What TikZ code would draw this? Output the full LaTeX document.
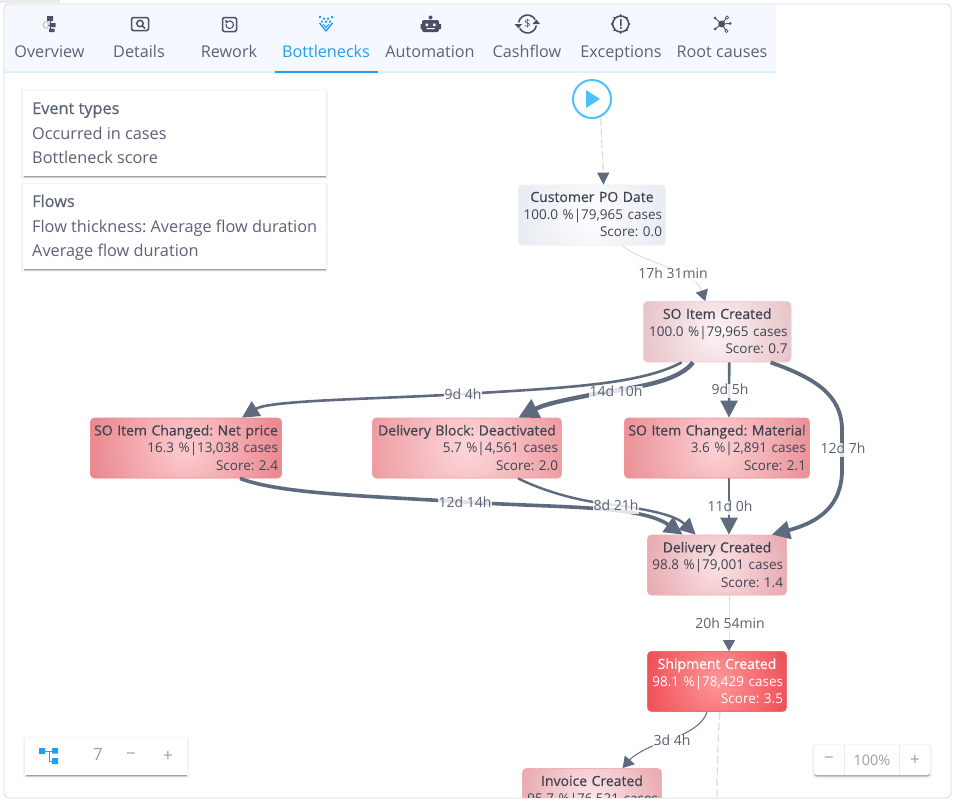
\documentclass[tikz,border=0pt]{standalone}
\usepackage{fontspec}
\setmainfont{Open Sans}
\newfontfamily\osemi[FakeBold=0.5]{Open Sans}
\usetikzlibrary{arrows.meta,calc}
\definecolor{ink}{HTML}{5B6275}
\definecolor{dark}{HTML}{3F4452}
\definecolor{edgec}{HTML}{5E6B7E}
\definecolor{iconc}{HTML}{4A5164}
\definecolor{faint}{HTML}{DADDE2}
\definecolor{bluea}{HTML}{1E9FF2}
\definecolor{startc}{HTML}{4DC0FF}
\definecolor{headbg}{HTML}{F5F9FF}
\definecolor{greyc}{HTML}{9A9FA8}
\tikzset{
  x=1pt,y=-1pt,
  flow/.style={draw=edgec},
  faintflow/.style={draw=faint,line width=1pt},
  dashflow/.style={draw=faint,line width=1.2pt,dash pattern=on 8pt off 3pt},
  lbl/.style={fill=white,fill opacity=.82,text opacity=1,text=ink,inner xsep=1pt,inner ysep=0.5pt,text height=10pt,text depth=3pt,yshift=-2pt,font=\fontsize{14}{16}\selectfont},
  tab/.style={text=ink,inner sep=0pt,anchor=base,font=\fontsize{16.2}{18}\selectfont},
  leg/.style={text=ink,anchor=base west,inner sep=0pt,font=\fontsize{16.3}{18}\selectfont},
  ctl/.style={text=greyc,inner sep=0pt,font=\fontsize{17}{18}\selectfont},
  ico/.style={draw=iconc,line width=1.5pt},
  tri/.style={-{Triangle[length=#1pt,width=#1pt]}}
}
\frenchspacing
\newcommand{\softpanel}[5]{%
  \foreach \e/\o in {3/.012,2/.02,1/.035}
    \fill[black,opacity=\o,rounded corners=#5pt] (#1-\e,#2-\e+1) rectangle (#3+\e,#4+\e+1);
  \fill[black,opacity=.22,rounded corners=#5pt] (#1+0.5,#4-2) rectangle (#3-0.5,#4+1.2);
  \fill[black,opacity=.12,rounded corners=#5pt] (#1+0.5,#4-2) rectangle (#3-0.5,#4+2.4);
  \fill[white,rounded corners=#5pt] (#1,#2) rectangle (#3,#4);%
}
\newcommand{\boxnode}[8]{%
  \pgfmathsetmacro{\bw}{#4-#2}\pgfmathsetmacro{\bh}{#5-#3}%
  \pgfmathsetmacro{\bx}{(#2+#4)/2}\pgfmathsetmacro{\by}{(#3+#5)/2}%
  \definecolor{cin}{HTML}{#6}\definecolor{cout}{HTML}{#7}\definecolor{cbd}{HTML}{#8}%
  \node[rounded corners=4pt,draw=cbd,line width=.8pt,fill=cout,minimum width=\bw pt,minimum height=\bh pt,inner sep=0pt,
    path picture={\shade[inner color=cin,outer color=cout] (path picture bounding box.center) circle[radius=\bw*0.53];}]
    (#1) at (\bx,\by) {};%
}
\newcommand{\boxtext}[5]{%
  \node[text width=\bw pt-7pt,inner sep=0pt,anchor=north,text=#2,font=\fontsize{13.5}{17.4}\selectfont] (#1t) at ([yshift=-7pt]#1.north)
  {\hbox to \linewidth{\hss{\osemi\fontsize{14}{17.4}\selectfont #3}\hss}\par\hbox to \linewidth{\hss #4}#5};%
}
\newcommand{\scoreline}[1]{\par\hbox to \linewidth{\hss #1}}
\begin{document}
\begin{tikzpicture}
\useasboundingbox (0,0) rectangle (956,803);
\fill[white] (0,0) rectangle (956,803);
\fill[black!8] (0,0) rectangle (60,3);
% frame and header
\begin{scope}
\clip[rounded corners=5pt] (4,4) rectangle (951,798);
\fill[headbg] (4,4) rectangle (776,72);
\fill[white!85!bluea] (4,71) rectangle (776,73);
\fill[bluea] (275,71) rectangle (378,73);
\end{scope}
\draw[draw=black!15,line width=.8pt,rounded corners=5pt] (4,4) rectangle (951,798);
% tabs
\node[tab] (t1) at (49.5,57) {Overview};
\node[tab] (t2) at (139,57) {Details};
\node[tab] (t3) at (229,57) {Rework};
\node[tab,text=bluea] (t4) at (326,57) {Bottlenecks};
\node[tab] (t5) at (430,57) {Automation};
\node[tab] (t6) at (527,57) {Cashflow};
\node[tab] (t7) at (621,57) {Exceptions};
\node[tab] (t8) at (722,57) {Root causes};
% icons
\fill[iconc] (47,16) rectangle (53,21) (49.5,23) rectangle (55.5,27) (49,28.5) rectangle (54.5,32);
\draw[iconc,line width=.8pt] (50,21) -- (50,30) (48,25) -- (50,25);
\draw[black!35,line width=.7pt,fill=white] (43,24.5) -- (45,22) -- (48,22) -- (48,28) -- (45,28) -- cycle;
\draw[ico,rounded corners=1.5pt] (131.5,17.5) rectangle (148.5,30.5);
\draw[ico] (140,23.5) circle[radius=3.2] (142.5,26) -- (145,28.5);
\draw[ico,rounded corners=1.5pt] (222.5,17.5) rectangle (236.5,31.5);
\draw[iconc,line width=1.1pt] (229.7,24.7) ++(190:3.8) arc[start angle=190,end angle=-110,radius=3.8];
\fill[iconc] (225,20) -- (229,21.5) -- (226,23.5) -- cycle;
\fill[bluea] (319,16) rectangle (321,18) (323,17.5) rectangle (325,19.5) (327,17.5) rectangle (329,19.5) (331,16) rectangle (333,18)
  (321,20.5) rectangle (323,22.5) (325,20.5) rectangle (327,22.5) (329,20.5) rectangle (331,22.5);
\draw[bluea,line width=1.4pt,line join=round] (319.5,23) -- (326,31) -- (332.5,23);
\draw[bluea,line width=1pt] (323,24) -- (326,27.5) -- (329,24);
\fill[iconc,rounded corners=2pt] (422,20) rectangle (439,32);
\fill[iconc] (430.5,17.5) circle[radius=2] (420.5,24) rectangle (441,29);
\fill[white] (425.5,23.5) rectangle (428,26) (433,23.5) rectangle (435.5,26) (426.5,28) rectangle (434.5,29.2);
\draw[iconc,line width=1.6pt] (527.5,24) ++(190:9) arc[start angle=190,end angle=330,radius=9];
\draw[iconc,line width=1.6pt] (527.5,24) ++(10:9) arc[start angle=10,end angle=150,radius=9];
\fill[iconc] (514.5,24) -- (522,24) -- (518.5,28.5) -- cycle (532.5,24) -- (540,24) -- (536.5,19.5) -- cycle;
\node[text=iconc,inner sep=0pt,font=\fontsize{11}{12}\selectfont] (dollar) at (527.5,24) {\$};
\draw[iconc,line width=1.6pt,fill=headbg] (620.7,24) circle[radius=8];
\foreach \a in {0,45,...,315} \fill[iconc] (620.7,24) ++(\a:9) circle[radius=1];
\fill[iconc] (620,19) rectangle (621.6,26) (620,27) rectangle (621.6,28.8);
\fill[iconc] (721.7,24) circle[radius=3.5];
\draw[iconc,line width=.9pt] (715,18) -- (721.7,24) -- (727,17.5) (721.7,24) -- (730,23.5) (721.7,24) -- (715,29) (721.7,24) -- (726.5,31);
\fill[iconc] (715,18) circle[radius=1.5] (730,23.5) circle[radius=1.5] (715,29) circle[radius=1.5];
\draw[iconc,line width=.6pt,fill=headbg] (727,17.5) circle[radius=1.6] (726.5,31) circle[radius=1.6];
% legends
\softpanel{23}{91}{326}{176}{0}
\node[leg,font=\osemi\fontsize{16.3}{18}\selectfont] (la) at (32,114) {Event types};
\node[leg] (lb) at (32,139) {Occurred in cases};
\node[leg] (lc) at (32,163) {Bottleneck score};
\softpanel{23}{184}{326}{269}{0}
\node[leg,font=\osemi\fontsize{16.3}{18}\selectfont] (ld) at (32,207) {Flows};
\node[leg] (le) at (32,232) {Flow thickness: Average flow duration};
\node[leg] (lf) at (32,256) {Average flow duration};
% start
\node[circle,draw=startc,line width=2pt,fill=white,minimum size=38pt,inner sep=0pt] (start) at (592,99) {};
\fill[startc] ([xshift=-6pt,yshift=9pt]start.center) -- ([xshift=8pt]start.center) -- ([xshift=-6pt,yshift=-9pt]start.center) -- cycle;
% nodes
\begin{scope}
\clip (4,4) rectangle (951,797.5);
\boxnode{cust}{518.5}{185}{665.5}{245}{FDFEFF}{E7EBF0}{EEF0F4}
\boxtext{cust}{dark}{Customer PO Date}{100.0 \%|79,965 cases}{\scoreline{Score: 0.0}}
\boxnode{so}{643.5}{301.5}{791}{362}{FDF3F5}{E7C3C8}{EFD3D7}
\boxtext{so}{dark}{SO Item Created}{100.0 \%|79,965 cases}{\scoreline{Score: 0.7}}
\boxnode{net}{90.5}{418}{281.5}{478}{FDCDD0}{E9858C}{F08F95}
\boxtext{net}{dark}{SO Item Changed: Net price}{16.3 \%|13,038 cases}{\scoreline{Score: 2.4}}
\boxnode{blk}{372.5}{418}{561.5}{478}{FDD7DA}{ED9BA0}{F29FA5}
\boxtext{blk}{dark}{Delivery Block: Deactivated}{5.7 \%|4,561 cases}{\scoreline{Score: 2.0}}
\boxnode{mat}{624.5}{418}{809.5}{478}{FCD2D5}{EA8F95}{F29499}
\boxtext{mat}{dark}{SO Item Changed: Material}{3.6 \%|2,891 cases}{\scoreline{Score: 2.1}}
\boxnode{dc}{647.5}{535}{786.5}{595}{FBE2E5}{E7AAB0}{EFB4BA}
\boxtext{dc}{dark}{Delivery Created}{98.8 \%|79,001 cases}{\scoreline{Score: 1.4}}
\boxnode{ship}{647.5}{651.5}{786.5}{711.5}{FE9797}{EF4F57}{F56B72}
\boxtext{ship}{white}{Shipment Created}{98.1 \%|78,429 cases}{\scoreline{Score: 3.5}}
\boxnode{inv}{522.5}{768.5}{661.5}{828.5}{FCE7E9}{E9A9AF}{EFB4BA}
\boxtext{inv}{dark}{Invoice Created}{95.7 \%|76,521 cases}{}
\end{scope}
% connectors
\coordinate (offpage) at (717,797);
\draw[dashflow,-{Triangle[length=12pt,width=12pt,fill=edgec,color=edgec]}] ([xshift=9pt,yshift=-19pt]start.center) .. controls (601,135) and (603,160) .. ([xshift=11.5pt]cust.north);
\draw[faintflow,-{Triangle[length=11pt,width=12.5pt,fill=edgec,color=edgec]}] ([xshift=30pt]cust.south) .. controls (640,262) and (695,270) .. ([xshift=-12pt]so.north);
\draw[flow,line width=2.6pt,tri=17] ([xshift=38.5pt]so.south west) .. controls (640,385) and (560,388) .. (463,394) .. controls (380,399) and (270,400) .. ([xshift=56pt]net.north);
\draw[flow,line width=4.4pt,tri=20] ([xshift=50pt]so.south west) .. controls (675,385) and (625,388) .. (590,395) .. controls (565,400) and (545,404) .. ([xshift=-43.5pt]blk.north east);
\draw[flow,line width=2.6pt,tri=17] ([xshift=12pt]so.south) -- ([xshift=12pt]mat.north);
\draw[flow,line width=3.8pt,tri=18] ([xshift=127.5pt]so.south west) .. controls (815,378) and (842,395) .. (842,430) -- (842,470) .. controls (842,505) and (820,522) .. ([xshift=-15pt]dc.north east);
\draw[flow,line width=2.6pt,tri=17] ([xshift=12pt]mat.south) -- ([xshift=12pt]dc.north);
\draw[flow,line width=3.6pt,tri=18] ([xshift=54pt]net.south) .. controls (280,494) and (370,496) .. (465,502) .. controls (560,508) and (640,505) .. ([xshift=35.5pt]dc.north west);
\draw[flow,line width=2.4pt,tri=16] ([xshift=51pt]blk.south) .. controls (550,494) and (585,502) .. (616,505) .. controls (650,510) and (675,515) .. ([xshift=48.5pt]dc.north west);
\draw[faintflow,-{Triangle[length=11pt,width=12pt,fill=edgec,color=edgec]}] ([xshift=12pt]dc.south) -- ([xshift=12pt]ship.north);
\draw[flow,line width=1pt,-{Triangle[length=11pt,width=13pt]}] ([xshift=-10pt]ship.south) .. controls (702,730) and (670,740) .. (655,745) .. controls (645,749) and (634,755) .. ([xshift=100.5pt]inv.north west);
\draw[dashflow] ([xshift=3pt]ship.south) .. controls (718,735) and (717,760) .. (offpage);
% labels
\node[lbl] (e1) at (673,273) {17h 31min};
\node[lbl] (e2) at (463,394) {9d 4h};
\node[lbl] (e3) at (616,391) {14d 10h};
\node[lbl] (e4) at (730,389) {9d 5h};
\node[lbl] (e5) at (843,448) {12d 7h};
\node[lbl] (e6) at (465,502) {12d 14h};
\node[lbl] (e7) at (616,505) {8d 21h};
\node[lbl] (e8) at (730,506) {11d 0h};
\node[lbl] (e9) at (730,623) {20h 54min};
\node[lbl] (e10) at (672,740) {3d 4h};
% bottom controls
\softpanel{25}{738}{187}{775}{0}
\fill[bluea] (39,748) rectangle (45,754) (52,748) rectangle (58,753.5) (52,758) rectangle (58,764);
\draw[bluea,line width=1pt] (45,751) -- (52,751) (49,751) -- (49,761) -- (52,761);
\node[ctl] (nlevel) at (98,754) {7};
\node[ctl] (lminus) at (131,756) {\textminus};
\node[ctl] (lplus) at (168,756) {+};
\softpanel{814}{745}{930}{775}{3}
\draw[black!8,line width=.8pt] (844,745) -- (844,775) (899,745) -- (899,775);
\node[ctl] (rminus) at (829,760) {\textminus};
\node[ctl,font=\fontsize{14.5}{16}\selectfont] (zoomv) at (872,760.5) {100\%};
\node[ctl] (rplus) at (915,760) {+};
\end{tikzpicture}
\end{document}
